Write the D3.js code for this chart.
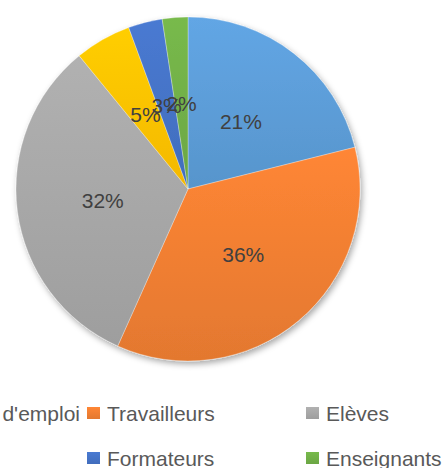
<!DOCTYPE html>
<html lang="fr">
  <head>
    <meta charset="UTF-8" />
    <title>Répartition</title>
    <script src="https://d3js.org/d3.v7.min.js"></script>
    <style>
      body {
        margin: 0;
        background: #fff;
        overflow: hidden;
      }
      svg {
        display: block;
        font-family: "Liberation Sans", Arial, sans-serif;
      }
      .label {
        fill: #404040;
        font-size: 21px;
      }
      .legend text {
        fill: #595959;
        font-size: 21px;
      }
    </style>
  </head>
  <body>
    <script>
      // data (share of total, percent)
      const categories = [
        "Demandeurs d'emploi",
        "Travailleurs",
        "Elèves",
        "Retraités",
        "Formateurs",
        "Enseignants",
      ];
      const values = [21.1, 35.6, 32.4, 5.3, 3.2, 2.4];
      const colors = ["#5b9bd5", "#ed7d31", "#a5a5a5", "#ffc000", "#4472c4", "#70ad47"];

      const width = 443,
        height = 468;
      const cx = 188,
        cy = 189,
        radius = 172;

      const svg = d3
        .select("body")
        .append("svg")
        .attr("width", width)
        .attr("height", height);

      const defs = svg.append("defs");

      // soft shadow like the office chart
      const shadow = defs
        .append("filter")
        .attr("id", "shadow")
        .attr("x", "-10%")
        .attr("y", "-10%")
        .attr("width", "130%")
        .attr("height", "130%");
      shadow
        .append("feDropShadow")
        .attr("dx", 2)
        .attr("dy", 3)
        .attr("stdDeviation", 3)
        .attr("flood-color", "#000")
        .attr("flood-opacity", 0.35);

      // one vertical gradient per slice, a bit lighter at the top
      colors.forEach((c, i) => {
        const g = defs
          .append("linearGradient")
          .attr("id", "grad" + i)
          .attr("x1", 0)
          .attr("y1", 0)
          .attr("x2", 0)
          .attr("y2", 1);
        g.append("stop").attr("offset", "0%").attr("stop-color", d3.color(c).brighter(0.2));
        g.append("stop").attr("offset", "100%").attr("stop-color", d3.color(c).darker(0.12));
      });

      const pie = d3.pie().sort(null).value((d) => d);
      const arcs = pie(values);
      const total = d3.sum(values);

      const arc = d3.arc().innerRadius(0).outerRadius(radius);
      const labelArc = d3.arc().innerRadius(86).outerRadius(86);

      const chart = svg.append("g").attr("transform", `translate(${cx},${cy})`);

      chart
        .append("g")
        .attr("filter", "url(#shadow)")
        .selectAll("path")
        .data(arcs)
        .enter()
        .append("path")
        .attr("d", arc)
        .attr("fill", (d, i) => `url(#grad${i})`)
        .attr("stroke", "#fff")
        .attr("stroke-opacity", 0.5)
        .attr("stroke-width", 0.6);

      const fmt = d3.format(".0%");
      chart
        .selectAll("text.label")
        .data(arcs)
        .enter()
        .append("text")
        .attr("class", "label")
        .attr("transform", (d) => `translate(${labelArc.centroid(d)})`)
        .attr("text-anchor", "middle")
        .attr("dy", "0.36em")
        .text((d) => fmt(d.value / total));

      // legend: 3 columns, 2 rows; it is wider than the page and the
      // first column is cut off on the left, as in the original
      const colX = d3.scaleOrdinal().domain([1, 2]).range([87, 306]);
      const rowY = d3.scaleLinear().domain([0, 1]).range([413, 458]);

      const legend = svg.append("g").attr("class", "legend");
      const items = legend
        .selectAll("g")
        .data(categories)
        .enter()
        .append("g");

      items
        .append("rect")
        .attr("x", 0)
        .attr("y", -6)
        .attr("width", 13)
        .attr("height", 12)
        .attr("fill", (d, i) => `url(#grad${i})`);

      items
        .append("text")
        .attr("x", 20)
        .attr("dy", "0.36em")
        .text((d) => d);

      // first column: widest entry ends just before the second column
      const col0 = items.filter((d, i) => i % 3 === 0);
      const col0Width = d3.max(col0.nodes(), (n) => n.querySelector("text").getComputedTextLength());
      const col0X = colX(1) - 7 - col0Width - 20;

      items.attr("transform", (d, i) => {
        const c = i % 3;
        const x = c === 0 ? col0X : colX(c);
        return `translate(${x},${rowY(Math.floor(i / 3))})`;
      });
    </script>
  </body>
</html>
